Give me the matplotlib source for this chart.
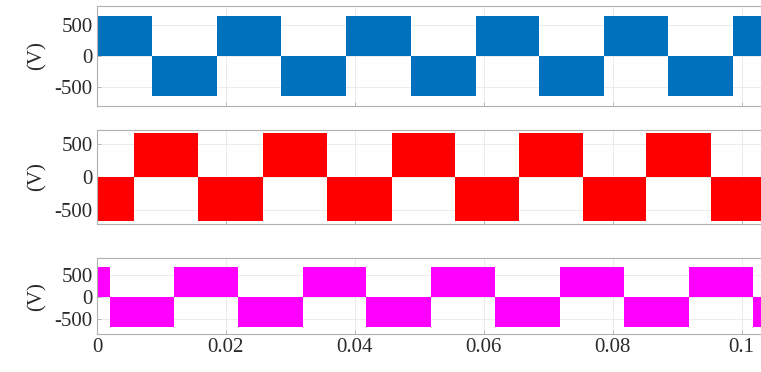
import numpy as np
import matplotlib
matplotlib.use("Agg")
import matplotlib.pyplot as plt

plt.rcParams['font.family'] = ['Liberation Serif', 'DejaVu Serif']

# switching instants (s) for the three phase-leg voltages
t_a = [0, 0.0086, 0.0186, 0.0286, 0.0387, 0.0487, 0.0588, 0.0685, 0.0787, 0.0886, 0.0987, 0.104]
t_b = [0, 0.0058, 0.0157, 0.0258, 0.0357, 0.0457, 0.0556, 0.0655, 0.0754, 0.0852, 0.0953, 0.104]
t_c = [0, 0.0020, 0.0119, 0.0219, 0.0319, 0.0418, 0.0518, 0.0618, 0.0718, 0.0818, 0.0918, 0.1018, 0.104]
first_sign = [1, -1, 1]
amplitude = [650, 670, 690]   # V
colors = ['#0072BD', '#FF0000', '#FF00FF']
ylims = [(-806, 806), (-712, 712), (-840, 886)]
yticks = [-500, 0, 500]
xticks = [0, 0.02, 0.04, 0.06, 0.08, 0.1]
xticklabels = ['0', '0.02', '0.04', '0.06', '0.08', '0.1']

fig = plt.figure(figsize=(7.61, 3.72), dpi=100)
boxes = [[0.1275, 0.715, 0.88, 0.269],
         [0.1275, 0.398, 0.88, 0.253],
         [0.1275, 0.102, 0.88, 0.204]]

for i, edges in enumerate([t_a, t_b, t_c]):
    ax = fig.add_axes(boxes[i])
    n = len(edges) - 1
    vals = np.array([first_sign[i] * (-1) ** k for k in range(n)]) * amplitude[i]
    ax.stairs(vals, edges, baseline=0, fill=True, color=colors[i], zorder=2)
    ax.set_xlim(0, 0.1039)
    ax.set_ylim(*ylims[i])
    ax.set_yticks(yticks)
    ax.set_yticklabels(['-500', '0', '500'])
    ax.set_xticks(xticks)
    if i == 2:
        ax.set_xticklabels(xticklabels)
    else:
        ax.set_xticklabels([])
    ax.grid(True, color='#e8e8e8', linewidth=0.6, zorder=0)
    ax.set_axisbelow(True)
    for s in ax.spines.values():
        s.set_color('#b0b0b0')
        s.set_linewidth(0.8)
    ax.tick_params(direction='in', length=3, width=0.6, colors='#b0b0b0',
                   labelcolor='#2a2a2a', labelsize=15, pad=3)
    ax.set_ylabel('(V)', fontsize=15, color='#2a2a2a', labelpad=6)

fig.savefig('out.png', dpi=100)
